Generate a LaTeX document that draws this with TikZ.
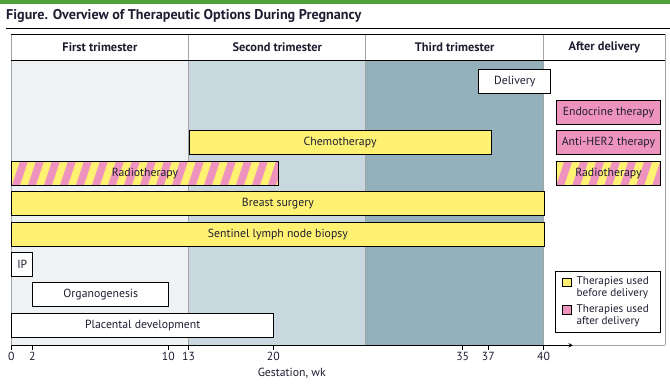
\documentclass[tikz,border=0pt]{standalone}
\usepackage{fontspec}
\setmainfont{PT Sans}
\definecolor{ink}{HTML}{1E1E32}
\definecolor{topgreen}{HTML}{4FA13C}
\definecolor{triA}{HTML}{EEF2F5}
\definecolor{triB}{HTML}{C9D8DF}
\definecolor{triC}{HTML}{94B1BB}
\definecolor{rimgray}{HTML}{A3A3A3}
\definecolor{barYellow}{HTML}{FFF273}
\definecolor{barPink}{HTML}{EE93BD}
\newcommand{\lblfont}{\fontsize{11.8}{13}\selectfont}
\tikzset{
  bar/.style={draw=black, line width=0.9bp, minimum height=24bp, inner sep=0pt,
    anchor=north west, text=ink, font=\lblfont},
  prebar/.style={bar, fill=barYellow},
  postbar/.style={bar, fill=barPink},
  openbar/.style={bar, fill=white},
  stripebar/.style={bar, fill=barYellow, path picture={
      \foreach \k in {-1,...,18}
        \fill[barPink] ([xshift=\k*16bp]path picture bounding box.south west)
          -- ++(8bp,0pt) -- ++(8bp,24bp) -- ++(-8bp,0pt) -- cycle;
    }},
  head/.style={font=\bfseries\fontsize{12.4}{14}\selectfont, text=ink},
  swatch/.style={draw=black, line width=0.8bp, minimum size=8.5bp, inner sep=0pt, anchor=north west},
}
\begin{document}
\begin{tikzpicture}[x=1bp, y=-1bp]
  \useasboundingbox (0,0) rectangle (670,385);
  % title
  \fill[topgreen] (0,0) rectangle (670,3.5);
  \node[anchor=west, inner sep=0pt, text=ink, font=\bfseries\fontsize{14.2}{16}\selectfont] (title) at (6,16)
    {Figure. Overview of Therapeutic Options During Pregnancy};
  \draw[line width=1bp] (6,28) -- (670,28);

  % trimester bands
  \foreach \xa/\xb/\c in {11/188.7/triA, 188.7/365.7/triB, 365.7/543.7/triC}{
    \fill[\c] (\xa,60.5) rectangle (\xb,345.3);
  }
  \foreach \x in {11, 188.7, 365.7, 543.7, 665}{
    \draw[rimgray, line width=0.9bp] (\x,34) -- (\x,345.3);
  }
  \draw[line width=1bp] (11,34) -- (665,34);
  \draw[line width=1bp] (11,60.5) -- (665,60.5);
  \node[head] (first) at (99.9,47) {First trimester};
  \node[head] (second) at (277.2,47) {Second trimester};
  \node[head] (third) at (454.7,47) {Third trimester};
  \node[head] (after) at (604.3,47) {After delivery};

  % therapies and milestones
  \node[openbar, minimum width=72bp] (delivery) at (478.3,69.3) {Delivery};
  \node[postbar, minimum width=104.6bp] (endocrine) at (555.7,100.3) {Endocrine therapy};
  \node[prebar, minimum width=302.2bp] (chemo) at (188.5,130.3) {Chemotherapy};
  \node[postbar, minimum width=104.6bp] (antiher) at (555.7,130.3) {Anti-HER2 therapy};
  \node[stripebar, minimum width=266.4bp] (radioL) at (11.3,161.3) {Radiotherapy};
  \node[stripebar, minimum width=104.6bp] (radioR) at (555.7,161.3) {Radiotherapy};
  \node[prebar, minimum width=532.2bp] (surgery) at (11.3,191.3) {Breast surgery};
  \node[prebar, minimum width=532.2bp] (sentinel) at (11.3,222.3) {Sentinel lymph node biopsy};
  \node[openbar, minimum width=21bp] (ip) at (11.3,252.3) {IP};
  \node[openbar, minimum width=136bp] (organo) at (32.3,282.3) {Organogenesis};
  \node[openbar, minimum width=262bp] (placenta) at (11.3,313.3) {Placental development};

  % legend
  \node[draw=black, line width=0.9bp, fill=white, minimum width=105bp, minimum height=61bp,
    inner sep=0pt, anchor=north west] (legend) at (555.3,271.3) {};
  \node[swatch, fill=barYellow] (keypre) at (562.3,277.6) {};
  \node[swatch, fill=barPink] (keypost) at (562.3,305.2) {};
  \node[anchor=west, align=left, inner sep=0pt, text=ink, font=\fontsize{11.2}{11.6}\selectfont]
    (keypretxt) at (576.5,287.7) {Therapies used\\before delivery};
  \node[anchor=west, align=left, inner sep=0pt, text=ink, font=\fontsize{11.2}{11.6}\selectfont]
    (keyposttxt) at (576.5,315.5) {Therapies used\\after delivery};

  % gestation axis
  \coordinate (origin) at (11.3,345.3);
  \coordinate (axisend) at (573,345.3);
  \draw[rimgray, line width=0.9bp] (axisend) -- (665,345.3);
  \draw[line width=1bp, -stealth] (origin) -- (axisend);
  \foreach \w/\x in {0/11.3, 2/32.3, 10/168.3, 13/188.5, 20/273.3, 35/462.7, 37/488.3, 40/543.5}{
    \draw[line width=0.9bp] (\x,345.3) -- (\x,350.3) node[below, inner sep=1.5pt, text=ink, font=\lblfont] {\w};
  }
  \node[text=ink, font=\lblfont] (gestation) at (291.7,372.7) {Gestation, wk};
\end{tikzpicture}
\end{document}
